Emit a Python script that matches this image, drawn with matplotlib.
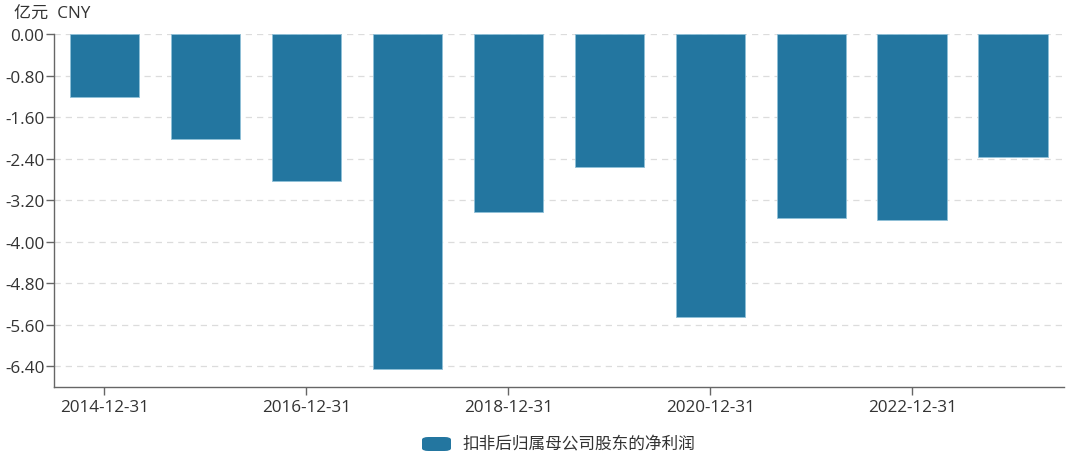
import matplotlib.pyplot as plt
from matplotlib.patches import FancyBboxPatch
from matplotlib.ticker import FixedLocator

plt.rcParams['font.family'] = ['Open Sans', 'Noto Sans CJK SC', 'DejaVu Sans']

# data (亿元)
dates = ['2014-12-31', '2015-12-31', '2016-12-31', '2017-12-31', '2018-12-31',
         '2019-12-31', '2020-12-31', '2021-12-31', '2022-12-31', '2023-12-31']
values = [-1.21, -2.02, -2.83, -6.45, -3.43, -2.56, -5.45, -3.55, -3.59, -2.37]
yticks = [0.0, -0.8, -1.6, -2.4, -3.2, -4.0, -4.8, -5.6, -6.4]
series_name = '扣非后归属母公司股东的净利润'
unit_label = '亿元  CNY'

bar_color = '#2376a0'
text_color = '#333333'

fig = plt.figure(figsize=(10.8, 4.56), dpi=100)
ax = fig.add_axes([0.05, 0.150, 0.935, 0.773])

x = list(range(len(dates)))
ax.bar(x, values, width=0.69, color=bar_color, edgecolor='#8fc0d8', linewidth=0.6, zorder=3)

ax.set_xlim(-0.5, len(dates) - 0.5)
ax.set_ylim(-6.79, 0)
ax.yaxis.set_major_locator(FixedLocator(yticks))
ax.set_yticklabels([f'{v:.2f}' for v in yticks])
ax.set_xticks(x[::2])
ax.set_xticklabels(dates[::2])

ax.grid(axis='y', color='#dcdcdc', linestyle=(0, (5, 4)), linewidth=0.9, zorder=0)
for s in ['top', 'right']:
    ax.spines[s].set_visible(False)
for s in ['left', 'bottom']:
    ax.spines[s].set_color('#666666')
    ax.spines[s].set_linewidth(1.0)

ax.tick_params(axis='y', length=6, width=1, color='#666666', labelsize=12.3, labelcolor=text_color, pad=1)
ax.tick_params(axis='x', length=6, width=1, color='#666666', labelsize=12.3, labelcolor=text_color, pad=3)

fig.text(14 / 1080, 1 - 15 / 456, unit_label, fontsize=12.3, color=text_color, va='center', ha='left')

# legend
fig.patches.append(FancyBboxPatch((422 / 1080, 1 - 452 / 456), 29 / 1080, 14 / 456,
                                  boxstyle='round,pad=0,rounding_size=0.006',
                                  transform=fig.transFigure, facecolor=bar_color,
                                  edgecolor='none'))
fig.text(462 / 1080, 1 - 445 / 456, series_name, fontsize=12, color=text_color,
         va='center', ha='left')

fig.savefig('out.png', dpi=100)
